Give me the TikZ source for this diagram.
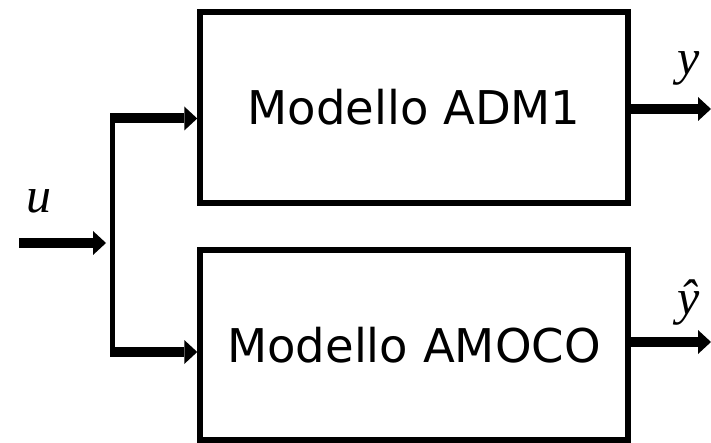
\documentclass[tikz,border=0pt]{standalone}
\usepackage{fontspec}
\setmainfont{DejaVu Sans}
\newfontfamily\tms{Liberation Serif}
\usetikzlibrary{arrows.meta}
\begin{document}
\begin{tikzpicture}[x=1pt,y=-1pt,
  blk/.style={draw, line width=5.5pt, minimum width=428pt, minimum height=191pt, inner sep=0pt, font=\fontsize{46.5}{50}\selectfont},
  arr/.style={line width=10pt, -{Triangle[length=13pt 0,width=24pt 0,line width=0pt]}},
  wire/.style={line width=5pt},
  lbl/.style={font=\tms\itshape\fontsize{50}{55}\selectfont, inner sep=0pt, anchor=base}]
\useasboundingbox (0,0) rectangle (711,443);
\node[blk] (adm) at (414,107.5) {Modello ADM1};
\node[blk, minimum height=190pt] (amoco) at (414,345) {Modello AMOCO};
\coordinate (in) at (19,243);
\coordinate (br) at (106,243);
\draw[arr] (in) -- (br);
\coordinate (vt) at (112.5,113.5);
\coordinate (vb) at (112.5,357);
\draw[wire] (vt) -- (vb);
\coordinate (b1) at (110,118.5);
\coordinate (b2) at (110,352);
\draw[arr] (b1) -- (b1 -| adm.west);
\draw[arr] (b2) -- (b2 -| amoco.west);
\coordinate (o1) at (711,109);
\coordinate (o2) at (711,342);
\draw[arr] (adm.east |- o1) -- (o1);
\draw[arr] (amoco.east |- o2) -- (o2);
\node[lbl] (u) at (38.5,213) {u};
\node[lbl] (y) at (689,75) {y};
\node[lbl] (yh) at (688.5,314) {ŷ};
\end{tikzpicture}
\end{document}
